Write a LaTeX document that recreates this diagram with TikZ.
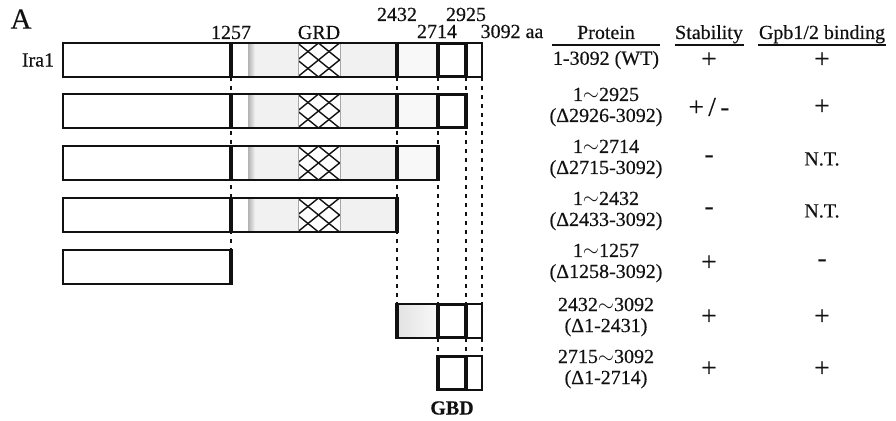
\documentclass[tikz,border=0pt]{standalone}
\usepackage{fontspec}
\setmainfont{Liberation Serif}[FakeBold=0.4]
\usetikzlibrary{positioning, calc}
\definecolor{cink}{HTML}{111111}
\definecolor{cstip}{HTML}{F1F1F1}
\definecolor{cdots}{HTML}{F8F8F8}
\tikzset{
  every picture/.style={line width=1.2pt},
  seg/.style={draw=cink, fill=white, line width=1.3pt},
  cut/.style={draw=cink, line width=3.4pt},
  gbd/.style={draw=cink, line width=3.6pt},
  guide/.style={draw=cink, line width=1.5pt, dash pattern=on 4pt off 5pt},
  hatch/.style={draw=cink, line width=1.4pt},
  lbl/.style={font=\fontsize{20}{21}\selectfont, inner sep=0pt, align=center, text=cink},
  sgn/.style={lbl, font=\fontsize{27}{27}\selectfont},
}
\begin{document}
\begin{tikzpicture}[x=1pt, y=-1pt,
    hdr/.style={lbl, anchor=base},
    rule/.style={draw=cink, line width=1.2pt}]
  \useasboundingbox (0,0) rectangle (896,420);

  % ---- dashed guides, behind the bars
  \foreach \x/\y in {231/250, 397/304, 438/356, 466/356, 482/356}
    { \coordinate (g\x a) at (\x,77); \coordinate (g\x b) at (\x,\y);
      \draw[guide] (g\x a) -- (g\x b); }

  % ---- the seven constructs
  \foreach \t/\a/\b in {43/63/482, 94/63/466, 146/63/438, 198/63/397,
                        250/63/231, 304/397/482, 356/438/482}
    \draw[seg] (\a,\t) rectangle (\b,\t+34);

  % ---- GRD region: stippled, with the cross-hatched core
  \foreach \t in {43, 94, 146, 198}
  {
    \fill[cstip] (249,\t+0.6) rectangle (396,\t+33.4);
    \shade[left color=gray!60, right color=cstip] (248,\t+0.6) rectangle (255,\t+33.4);
    \begin{scope}
      \clip (298,\t) rectangle (340,\t+34);
      \fill[white] (298,\t) rectangle (340,\t+34);
      \foreach \k in {234.5,255.5,...,402.5}
        { \draw[hatch] (\k,\t) -- ++(42,34); \draw[hatch] (\k,\t) -- ++(-42,34); }
    \end{scope}
    \draw[gray!70, line width=0.6pt] (298,\t) -- (298,\t+34) (340,\t) -- (340,\t+34);
  }
  \foreach \t in {43, 94, 146}
    \fill[cdots] (398,\t+0.6) rectangle (437,\t+33.4);
  \shade[left color=gray!22, right color=cdots] (398,304.6) rectangle (437,337.4);

  % outlines again on top of the fills
  \foreach \t/\a/\b in {43/63/482, 94/63/466, 146/63/438, 198/63/397,
                        250/63/231, 304/397/482, 356/438/482}
    \draw[seg, fill=none] (\a,\t) rectangle (\b,\t+34);

  % ---- cut sites and the GBD
  \foreach \x/\t in {231/43, 231/94, 231/146, 231/198, 231/250,
                     397/43, 397/94, 397/146, 397/198, 397/304, 438/146}
    \draw[cut] (\x,\t-1) -- (\x,\t+35);
  \foreach \t in {43, 94, 304, 356}
    \draw[gbd] (438,\t+0.5) rectangle (466,\t+33.5);

  % ---- position labels
  \node[lbl, font=\fontsize{29}{30}\selectfont] (panel) at (21,19) {A};
  \node[lbl] (ira) at (38,60) {Ira1};
  \node[hdr] (m1257) at (231,39) {1257};
  \node[hdr] (grd) at (319,39) {GRD};
  \node[hdr] (m2432) at (397,21) {2432};
  \node[hdr] (m2714) at (437,38) {2714};
  \node[hdr] (m2925) at (466,21) {2925};
  \node[hdr, anchor=base west] (m3092) at (480,38) {3092 aa};
  \node[lbl, font=\fontsize{20}{21}\selectfont\bfseries] (gbdlab) at (452,408) {GBD};

  % ---- table
  \node[hdr] (hprot) at (606,39) {Protein};
  \node[hdr] (hstab) at (709,39) {Stability};
  \node[hdr] (hbind) at (822,39) {Gpb1/2 binding};
  \draw[rule] ($(hprot.base)+(-54,6)$) -- ($(hprot.base)+(54,6)$);
  \draw[rule] ($(hstab.base west)+(0,6)$) -- ($(hstab.base east)+(0,6)$);
  \draw[rule] ($(hbind.base west)+(0,6)$) -- ($(hbind.base east)+(0,6)$);

  \foreach \n/\y/\p/\s/\g in {
      1/60/{1-3092 (WT)}/{+}/{+},
      2/107/{1$\sim$2925\\(Δ2926-3092)}/{+\,/\,-}/{+},
      3/159/{1$\sim$2714\\(Δ2715-3092)}/{-}/{\fontsize{20}{21}\selectfont N.T.},
      4/211/{1$\sim$2432\\(Δ2433-3092)}/{-}/{\fontsize{20}{21}\selectfont N.T.},
      5/263/{1$\sim$1257\\(Δ1258-3092)}/{+}/{-},
      6/317/{2432$\sim$3092\\(Δ1-2431)}/{+}/{+},
      7/369/{2715$\sim$3092\\(Δ1-2714)}/{+}/{+}}
    { \node[lbl] (p\n) at (606,\y) {\p};
      \node[sgn] (s\n) at (709,\y) {\s};
      \node[sgn] (b\n) at (822,\y) {\g}; }
\end{tikzpicture}
\end{document}
